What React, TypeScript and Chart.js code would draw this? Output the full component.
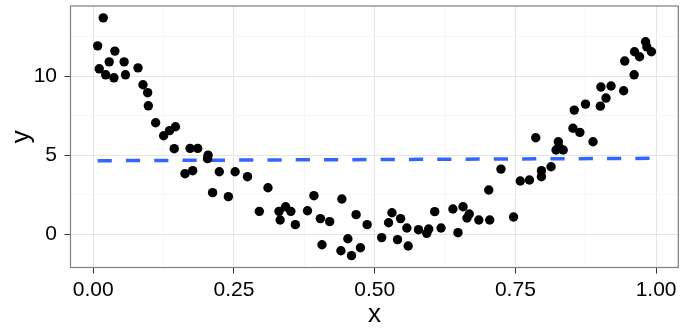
import React, { useEffect, useRef } from "react";
import { Chart, registerables } from "chart.js";

Chart.register(...registerables);

const xValues: number[] = [
  0.0077, 0.0106, 0.0177, 0.022, 0.0283, 0.0366, 0.0383, 0.0548, 0.0572, 0.0795,
  0.0883, 0.0966, 0.0978, 0.1108, 0.125, 0.1355, 0.1438, 0.146, 0.163, 0.172,
  0.1767, 0.1855, 0.203, 0.204, 0.212, 0.2239, 0.24, 0.252, 0.274, 0.295,
  0.3104, 0.33, 0.332, 0.3417, 0.351, 0.359, 0.3806, 0.392, 0.4035, 0.4064,
  0.42, 0.44, 0.4417, 0.4523, 0.4588, 0.467, 0.4747, 0.4866, 0.5124, 0.5247,
  0.5307, 0.5406, 0.546, 0.5572, 0.5595, 0.5778, 0.5925, 0.596, 0.6067, 0.618,
  0.639, 0.648, 0.657, 0.664, 0.668, 0.685, 0.7027, 0.7044, 0.7244, 0.7468,
  0.7587, 0.775, 0.7862, 0.7963, 0.7963, 0.8134, 0.8223, 0.8263, 0.8275, 0.835,
  0.8523, 0.8546, 0.8646, 0.8746, 0.888, 0.901, 0.902, 0.911, 0.92, 0.9424,
  0.9443, 0.961, 0.9617, 0.9707, 0.9813, 0.9836, 0.9918,
];

const yValues: number[] = [
  11.91, 10.46, 13.68, 10.08, 10.9, 9.89, 11.58, 10.9, 10.08, 10.52,
  9.45, 8.95, 8.12, 7.05, 6.23, 6.55, 5.41, 6.8, 3.83, 5.43,
  4.02, 5.43, 4.78, 5.0, 2.63, 3.95, 2.38, 3.95, 3.64, 1.45,
  2.94, 1.45, 0.9, 1.74, 1.45, 0.61, 1.49, 2.44, 0.99, -0.66,
  0.8, -1.04, 2.23, -0.28, -1.35, 1.24, -0.85, 0.61, -0.21, 0.73,
  1.36, -0.34, 0.99, 0.4, -0.74, 0.29, 0.06, 0.33, 1.43, 0.4,
  1.6, 0.1, 1.74, 1.03, 1.28, 0.9, 2.8, 0.9, 4.12, 1.09,
  3.37, 3.43, 6.1, 4.02, 3.64, 4.27, 5.33, 5.85, 5.53, 5.33,
  6.7, 7.85, 6.44, 8.23, 5.85, 8.1, 9.31, 8.61, 9.37, 9.07,
  10.95, 10.08, 11.54, 11.22, 12.17, 11.85, 11.54,
];

const fitX: number[] = [0.0077, 0.9918];
const fitY: number[] = [4.65, 4.8];

const xTicks: number[] = [0, 0.125, 0.25, 0.375, 0.5, 0.625, 0.75, 0.875, 1];
const xMajor: number[] = [0, 0.25, 0.5, 0.75, 1];
const xLabels: string[] = ["0.00", "0.25", "0.50", "0.75", "1.00"];
const yTicks: number[] = [0, 2.5, 5, 7.5, 10, 12.5];
const yMajor: number[] = [0, 5, 10];
const yLabels: string[] = ["0", "5", "10"];

const isMajor = (list: number[], v: number) => list.some((m) => Math.abs(m - v) < 1e-9);

const borderPlugin = {
  id: "panelBorder",
  afterDraw(chart: any) {
    const { ctx, chartArea } = chart;
    ctx.save();
    ctx.strokeStyle = "#7f7f7f";
    ctx.lineWidth = 1.2;
    ctx.strokeRect(chartArea.left, chartArea.top, chartArea.right - chartArea.left, chartArea.bottom - chartArea.top);
    ctx.restore();
  },
};

export default function App() {
  const ref = useRef<HTMLCanvasElement | null>(null);

  useEffect(() => {
    if (!ref.current) return;
    const points = xValues.map((x, i) => ({ x, y: yValues[i] }));
    const fit = fitX.map((x, i) => ({ x, y: fitY[i] }));
    const font = "'Liberation Sans', Arial, Helvetica, sans-serif";

    const chart = new Chart(ref.current, {
      type: "scatter",
      data: {
        datasets: [
          {
            type: "scatter",
            data: points,
            backgroundColor: "#000000",
            borderColor: "#000000",
            borderWidth: 0,
            pointRadius: 4.7,
            pointHoverRadius: 4.7,
          },
          {
            type: "line",
            data: fit,
            borderColor: "#3366FF",
            borderWidth: 3.5,
            borderDash: [14.2, 14.1],
            pointRadius: 0,
            fill: false,
          },
        ],
      },
      options: {
        responsive: false,
        animation: false,
        devicePixelRatio: 1,
        layout: { padding: { top: 6, right: 1, left: 0, bottom: 0 } },
        plugins: {
          legend: { display: false },
          tooltip: { enabled: false },
        },
        scales: {
          x: {
            type: "linear",
            min: -0.0405,
            max: 1.0395,
            afterBuildTicks: (scale: any) => {
              scale.ticks = xTicks.map((v) => ({ value: v }));
            },
            afterFit: (scale: any) => {
              scale.height = 60.5;
              scale.paddingLeft = 0;
              scale.paddingRight = 0;
            },
            grid: {
              color: (c: any) => (isMajor(xMajor, c.tick?.value) ? "#e5e5e5" : "#f7f7f7"),
              tickColor: (c: any) => (isMajor(xMajor, c.tick?.value) ? "#333333" : "rgba(0,0,0,0)"),
              tickLength: 6,
              lineWidth: 1,
            },
            border: { display: false },
            ticks: {
              autoSkip: false,
              maxRotation: 0,
              padding: 4.5,
              color: "#000000",
              font: { family: font, size: 21 },
              callback: (v: any) => {
                const i = xMajor.findIndex((m) => Math.abs(m - v) < 1e-9);
                return i >= 0 ? xLabels[i] : "";
              },
            },
            title: {
              display: true,
              text: "x",
              color: "#000000",
              font: { family: font, size: 26, lineHeight: 1.0 },
              padding: { top: 0, bottom: 0 },
            },
          },
          y: {
            type: "linear",
            min: -2.1,
            max: 14.43,
            afterBuildTicks: (scale: any) => {
              scale.ticks = yTicks.map((v) => ({ value: v }));
            },
            afterFit: (scale: any) => {
              scale.width = 70.5;
              scale.paddingTop = 0;
              scale.paddingBottom = 0;
            },
            grid: {
              color: (c: any) => (isMajor(yMajor, c.tick?.value) ? "#e5e5e5" : "#f7f7f7"),
              tickColor: (c: any) => (isMajor(yMajor, c.tick?.value) ? "#333333" : "rgba(0,0,0,0)"),
              tickLength: 6,
              lineWidth: 1,
            },
            border: { display: false },
            ticks: {
              autoSkip: false,
              padding: 7.5,
              color: "#000000",
              font: { family: font, size: 21 },
              callback: (v: any) => {
                const i = yMajor.findIndex((m) => Math.abs(m - v) < 1e-9);
                return i >= 0 ? yLabels[i] : "";
              },
            },
            title: {
              display: true,
              text: "y",
              color: "#000000",
              font: { family: font, size: 26, lineHeight: 1.2 },
              padding: { top: 6, bottom: 0 },
            },
          },
        },
      },
      plugins: [borderPlugin],
    });

    return () => chart.destroy();
  }, []);

  return (
    <div style={{ position: "fixed", left: 0, top: 0, width: 683, height: 328, background: "#ffffff" }}>
      <canvas ref={ref} width={683} height={328} style={{ display: "block", width: 683, height: 328 }} />
    </div>
  );
}
